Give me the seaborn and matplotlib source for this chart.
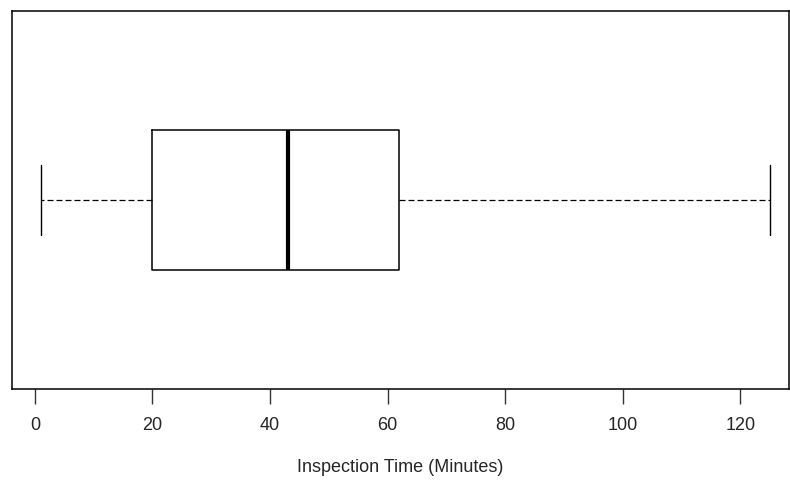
import matplotlib
matplotlib.use("Agg")
import matplotlib.pyplot as plt
import seaborn as sns
import pandas as pd

# five-number summary (min, Q1, median, Q3, max)
inspection_minutes = [1, 20, 43, 62, 125]
x_ticks = [0, 20, 40, 60, 80, 100, 120]

df = pd.DataFrame({"time": inspection_minutes})

sns.set_style("white")
plt.rcParams["font.family"] = ["Liberation Sans", "DejaVu Sans"]

fig = plt.figure(figsize=(7.9, 4.8), dpi=100)
ax = fig.add_axes([12 / 790, (480 - 389) / 480, 777 / 790, 378 / 480])

sns.boxplot(data=df, x="time", orient="h", width=0.4, whis=1.5, fill=False,
            color="black", linewidth=1.1, ax=ax,
            medianprops={"linewidth": 3, "color": "black"},
            whiskerprops={"linestyle": (0, (4.8, 2.4)), "linewidth": 0.9},
            capprops={"linewidth": 1.0},
            capwidths=0.2)

ax.set_xlim(-3.9, 128.3)
ax.set_ylim(0.54, -0.54)
ax.set_yticks([])
ax.set_xticks(x_ticks)
ax.tick_params(axis="x", length=11, width=1, direction="out", pad=9, labelsize=13,
               bottom=True, color="#333333")
for s in ax.spines.values():
    s.set_color("black")
    s.set_linewidth(1.1)
ax.set_xlabel("Inspection Time (Minutes)", fontsize=13, labelpad=18)
ax.set_ylabel("")

fig.savefig("out.png", dpi=100)
